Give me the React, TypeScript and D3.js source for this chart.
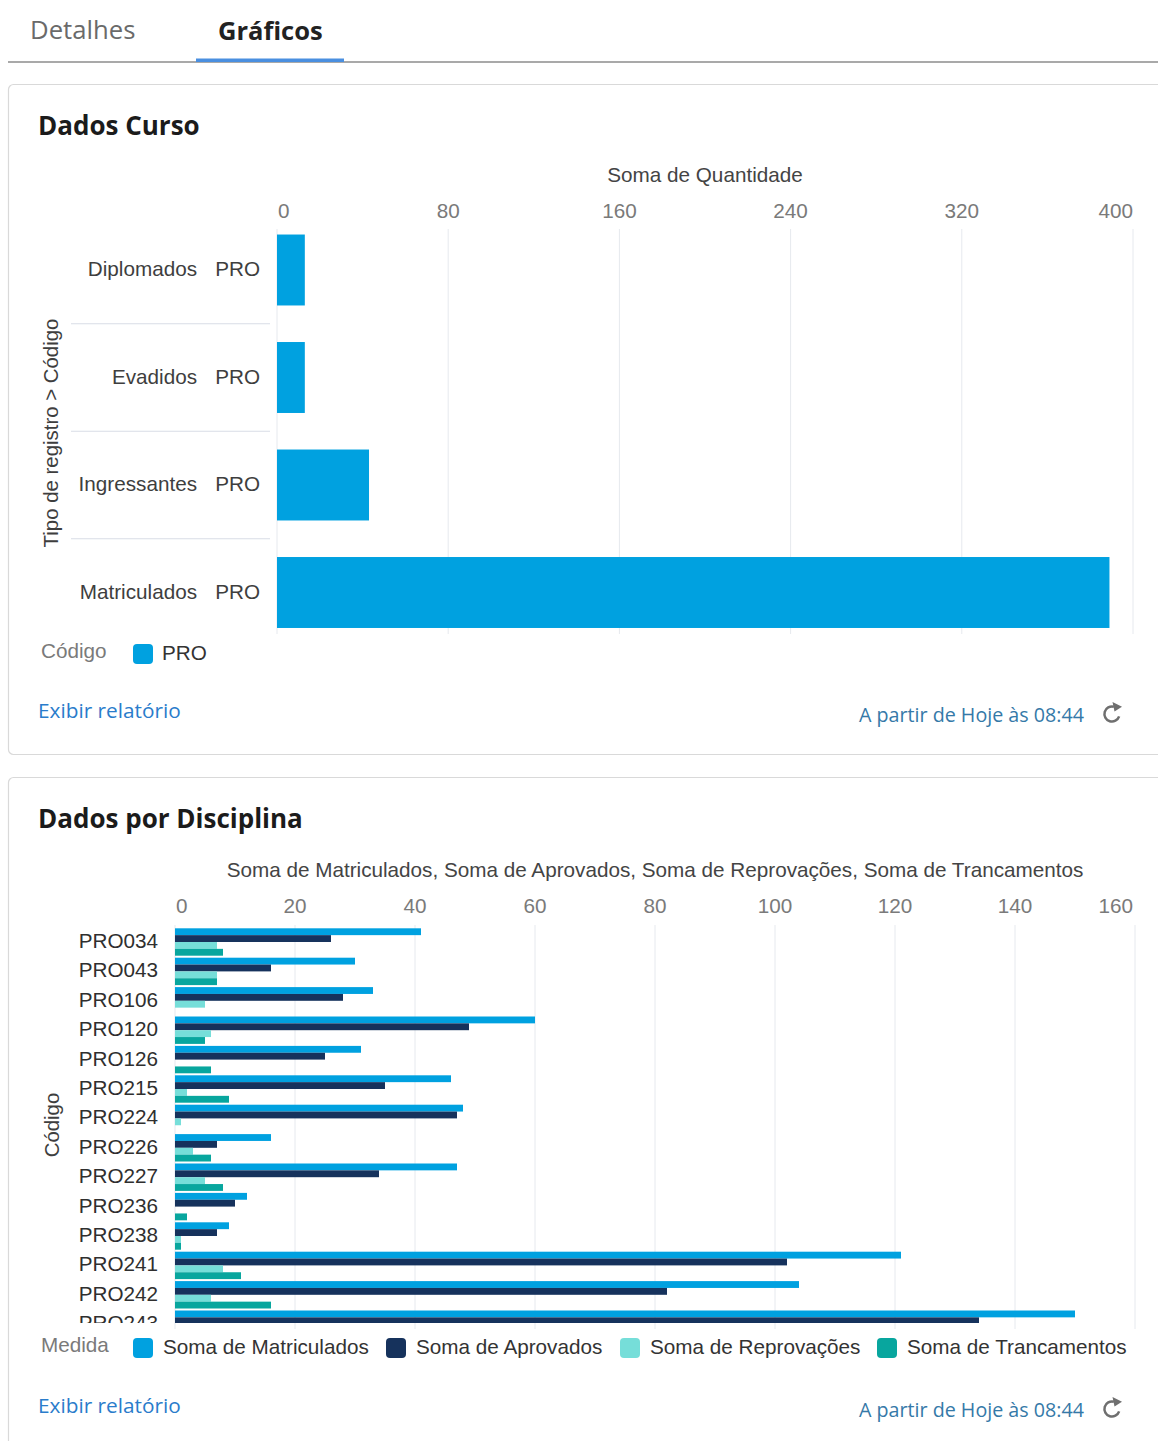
import React from "react";
import * as d3 from "d3";

// ---------- Data ----------
const tabs = ["Detalhes", "Gráficos"];

const courseTitle = "Dados Curso";
const courseCategories = ["Diplomados", "Evadidos", "Ingressantes", "Matriculados"];
const courseCode = "PRO";
const courseValues = [13, 13, 43, 389];
const courseTicks = [0, 80, 160, 240, 320, 400];
const courseXTitle = "Soma de Quantidade";
const courseYTitle = "Tipo de registro > Código";
const courseLegendTitle = "Código";

const discTitle = "Dados por Disciplina";
const discCodes = ["PRO034", "PRO043", "PRO106", "PRO120", "PRO126", "PRO215", "PRO224", "PRO226", "PRO227", "PRO236", "PRO238", "PRO241", "PRO242", "PRO243"];
const seriesNames = ["Soma de Matriculados", "Soma de Aprovados", "Soma de Reprovações", "Soma de Trancamentos"];
const matriculados = [41, 30, 33, 60, 31, 46, 48, 16, 47, 12, 9, 121, 104, 150];
const aprovados = [26, 16, 28, 49, 25, 35, 47, 7, 34, 10, 7, 102, 82, 134];
const reprovacoes = [7, 7, 5, 6, 0, 2, 1, 3, 5, 0, 1, 8, 6, 9];
const trancamentos = [8, 7, 0, 5, 6, 9, 0, 6, 8, 2, 1, 11, 16, 7];
const discTicks = [0, 20, 40, 60, 80, 100, 120, 140, 160];
const discXTitle = "Soma de Matriculados, Soma de Aprovados, Soma de Reprovações, Soma de Trancamentos";
const discYTitle = "Código";
const discLegendTitle = "Medida";

const seriesColors = ["#00A1E0", "#16325C", "#76DED9", "#08A69E"];
const footerLink = "Exibir relatório";
const footerTime = "A partir de Hoje às 08:44";

// ---------- Styles ----------
const UI = "'Open Sans', 'Noto Sans', sans-serif";
const CH = "'Liberation Sans', Arial, sans-serif";
const FS = 20.7;
const DY = -1.5;
const gridColor = "#e6e9ee";

function tickAnchor(i: number, n: number) {
  return i === 0 ? "start" : i === n - 1 ? "end" : "middle";
}

function RefreshIcon({ cx, cy }: { cx: number; cy: number }) {
  const arc = d3.arc()({ innerRadius: 6.3, outerRadius: 8.8, startAngle: 1.9, endAngle: 2 * Math.PI + 0.25 } as any) as string;
  return (
    <g transform={`translate(${cx},${cy})`}>
      <path d={arc} fill="#6f6f6f" />
      <path d="M 0.5 -12 L 10 -7.2 L 2.5 -2.5 Z" fill="#6f6f6f" />
    </g>
  );
}

function Footer({ y }: { y: number }) {
  return (
    <g>
      <text x={38} y={y} fontFamily={UI} fontSize={20.8} fill="#2a7ccb" dominantBaseline="central">{footerLink}</text>
      <text x={1084} y={y + 4} fontFamily={UI} fontSize={19.7} fill="#3579a8" textAnchor="end" dominantBaseline="central">{footerTime}</text>
      <RefreshIcon cx={1112} cy={y + 4} />
    </g>
  );
}

function CourseChart() {
  const x = d3.scaleLinear().domain([0, 400]).range([277, 1133]);
  const y = d3.scaleBand().domain(courseCategories).range([216.25, 646.25]).paddingInner(0.34).paddingOuter(0.17);
  const step = y.step();
  return (
    <g>
      <text x={38} y={124.5} fontFamily={UI} fontWeight={700} fontSize={26} fill="#1b1b1b" dominantBaseline="central">{courseTitle}</text>
      <text x={(x.range()[0] + x.range()[1]) / 2} y={176 + DY} fontFamily={CH} fontSize={FS} fill="#444" textAnchor="middle" dominantBaseline="central">{courseXTitle}</text>
      {courseTicks.map((t, i) => (
        <g key={t}>
          <text x={x(t) + (i === 0 ? 1 : 0)} y={212 + DY} fontFamily={CH} fontSize={FS} fill="#7a7a7a" textAnchor={tickAnchor(i, courseTicks.length)} dominantBaseline="central">{t}</text>
          <line x1={x(t)} x2={x(t)} y1={229} y2={634} stroke={gridColor} strokeWidth={1} />
        </g>
      ))}
      {courseCategories.map((c, i) => {
        const cy = (y(c) as number) + y.bandwidth() / 2 + DY;
        return (
          <g key={c}>
            <rect x={x(0)} y={y(c)} width={x(courseValues[i]) - x(0)} height={y.bandwidth()} fill={seriesColors[0]} />
            <text x={197} y={cy} fontFamily={CH} fontSize={FS} fill="#3e3e3e" textAnchor="end" dominantBaseline="central">{c}</text>
            <text x={260} y={cy} fontFamily={CH} fontSize={FS} fill="#3e3e3e" textAnchor="end" dominantBaseline="central">{courseCode}</text>
            {i > 0 && (
              <line x1={71} x2={270} y1={(y(c) as number) - (step - y.bandwidth()) / 2} y2={(y(c) as number) - (step - y.bandwidth()) / 2} stroke="#d8dde6" strokeWidth={1.2} />
            )}
          </g>
        );
      })}
      <text transform={`translate(50.5,${433}) rotate(-90)`} fontFamily={CH} fontSize={20.4} fill="#3e3e3e" textAnchor="middle" dominantBaseline="central">{courseYTitle}</text>
      <text x={41} y={652 + DY} fontFamily={CH} fontSize={FS} fill="#7a7a7a" dominantBaseline="central">{courseLegendTitle}</text>
      <rect x={133} y={644} width={20} height={20} rx={4} fill={seriesColors[0]} />
      <text x={162} y={654 + DY} fontFamily={CH} fontSize={FS} fill="#333" dominantBaseline="central">{courseCode}</text>
      <Footer y={710} />
    </g>
  );
}

function DiscChart() {
  const x = d3.scaleLinear().domain([0, 160]).range([175, 1135]);
  const y = d3.scaleBand().domain(discCodes).range([927.3, 927.3 + 14 * 29.4]).paddingInner(2 / 29.4).paddingOuter(1 / 29.4);
  const sub = d3.scaleBand().domain(seriesNames).range([0, y.bandwidth()]);
  const series = [matriculados, aprovados, reprovacoes, trancamentos];
  const legendX = [133, 386, 620, 877];
  return (
    <g>
      <defs>
        <clipPath id="plotclip">
          <rect x={0} y={920} width={1158} height={403} />
        </clipPath>
      </defs>
      <text x={38} y={817.5} fontFamily={UI} fontWeight={700} fontSize={26} fill="#1b1b1b" dominantBaseline="central">{discTitle}</text>
      <text x={(x.range()[0] + x.range()[1]) / 2} y={871 + DY} fontFamily={CH} fontSize={FS} fill="#444" textAnchor="middle" dominantBaseline="central">{discXTitle}</text>
      {discTicks.map((t, i) => (
        <g key={t}>
          <text x={i === 0 ? x(t) + 1 : i === discTicks.length - 1 ? x(t) - 2 : x(t)} y={907 + DY} fontFamily={CH} fontSize={FS} fill="#7a7a7a" textAnchor={tickAnchor(i, discTicks.length)} dominantBaseline="central">{t}</text>
          <line x1={x(t)} x2={x(t)} y1={925} y2={1329} stroke={gridColor} strokeWidth={1} />
        </g>
      ))}
      <g clipPath="url(#plotclip)">
        {discCodes.map((c, i) => (
          <g key={c}>
            {seriesNames.map((s, k) => (
              series[k][i] > 0 ? (
                <rect key={s} x={x(0)} y={(y(c) as number) + (sub(s) as number)} width={x(series[k][i]) - x(0)} height={sub.bandwidth()} fill={seriesColors[k]} />
              ) : null
            ))}
            <text x={158} y={(y(c) as number) + y.bandwidth() / 2 + DY} fontFamily={CH} fontSize={FS} fill="#2f2f2f" textAnchor="end" dominantBaseline="central">{c}</text>
          </g>
        ))}
      </g>
      <text transform={`translate(51.5,${1125}) rotate(-90)`} fontFamily={CH} fontSize={20.4} fill="#3e3e3e" textAnchor="middle" dominantBaseline="central">{discYTitle}</text>
      <text x={41} y={1346 + DY} fontFamily={CH} fontSize={FS} fill="#7a7a7a" dominantBaseline="central">{discLegendTitle}</text>
      {seriesNames.map((s, k) => (
        <g key={s}>
          <rect x={legendX[k]} y={1338} width={20} height={20} rx={4} fill={seriesColors[k]} />
          <text x={legendX[k] + 30} y={1348 + DY} fontFamily={CH} fontSize={FS} fill="#333" dominantBaseline="central">{s}</text>
        </g>
      ))}
      <Footer y={1405} />
    </g>
  );
}

export default function App() {
  return (
    <svg width={1158} height={1441} style={{ position: "absolute", left: 0, top: 0, background: "#fff" }}>
      <rect x={0} y={0} width={1158} height={1441} fill="#fff" />
      {/* tabs */}
      <text x={30} y={29.5} fontFamily={UI} fontSize={25.7} fill="#6a6a6a" dominantBaseline="central">{tabs[0]}</text>
      <text x={218} y={29.5} fontFamily={UI} fontWeight={700} fontSize={25.5} fill="#222" dominantBaseline="central">{tabs[1]}</text>
      <line x1={8} x2={1158} y1={62} y2={62} stroke="#555" strokeWidth={1.2} />
      <rect x={196} y={58.5} width={148} height={3.5} fill="#4a8fe0" />
      {/* cards */}
      <rect x={8.5} y={84.5} width={1170} height={670} rx={5} fill="#fff" stroke="#d9d9d9" strokeWidth={1.2} />
      <rect x={8.5} y={777.5} width={1170} height={700} rx={5} fill="#fff" stroke="#d9d9d9" strokeWidth={1.2} />
      <CourseChart />
      <DiscChart />
    </svg>
  );
}
